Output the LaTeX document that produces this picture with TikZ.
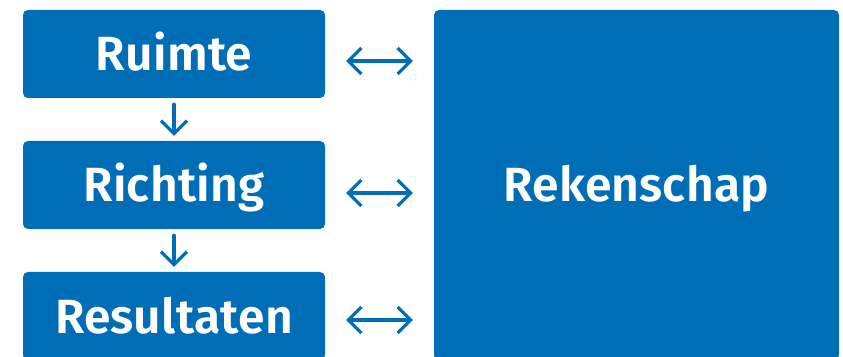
\documentclass[tikz,border=0pt]{standalone}
\usepackage{fontspec}
\setmainfont{Fira Sans}[BoldFont={Fira Sans SemiBold}, LetterSpace=0.5]
\usepackage{tikz}
\usetikzlibrary{positioning,arrows.meta}
\definecolor{rijksblauw}{RGB}{0,110,182}
\tikzset{
    on grid,
    node distance=131pt,
    block/.style = {
        fill=rijksblauw,
        shape=rectangle,
        rounded corners=5pt,
        minimum height=88pt,
        minimum width=302pt,
        text=white,
        text height=34pt,
        text depth=0pt,
        font=\fontsize{48}{48}\selectfont\bfseries
    },
    big/.style = {
        block,
        minimum height=350pt,
        minimum width=405pt
    },
    link/.style = {
        draw=rijksblauw,
        line width=3.2pt,
        line cap=round
    },
    >={Straight Barb[length=13pt,width=26pt]},
}
\begin{document}
\begin{tikzpicture}[x=1pt,y=1pt]
                \useasboundingbox (0,0) rectangle (843,356);
                \node[block] (ruimte) at (174,302) {Ruimte};
                \node[block, below=of ruimte] (richting) {Richting};
                \node[block, below=of richting] (resultaten) {Resultaten};
                \node[big] (rekenschap) at (636.5,171) {Rekenschap};

                \path[link, ->, shorten <=6pt, shorten >=5pt] (ruimte) -- (richting);
                \path[link, ->, shorten <=6pt, shorten >=5pt] (richting) -- (resultaten);

                \path[link, <->, shorten <=21pt, shorten >=21pt] ([yshift=-7pt]ruimte.east) -- ([yshift=-7pt]ruimte.east -| rekenschap.west);
                \path[link, <->, shorten <=21pt, shorten >=21pt] ([yshift=-8pt]richting.east) -- ([yshift=-8pt]richting.east -| rekenschap.west);
                \path[link, <->, shorten <=21pt, shorten >=21pt] ([yshift=-4pt]resultaten.east) -- ([yshift=-4pt]resultaten.east -| rekenschap.west);
\end{tikzpicture}
\end{document}
